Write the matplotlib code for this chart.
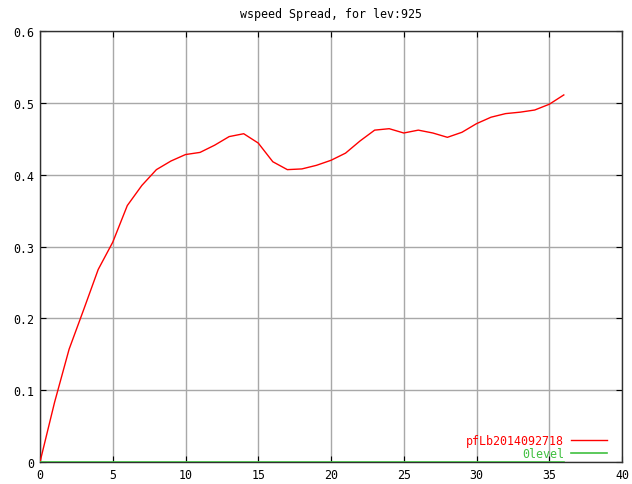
import matplotlib
matplotlib.use("Agg")
import matplotlib.pyplot as plt

plt.rcParams.update({
    "font.family": ["DejaVu Sans Mono"],
    "font.size": 8.4,
})

# forecast hour index and spread values
steps = list(range(37))
spread = [0.000, 0.083, 0.157, 0.212, 0.268, 0.306, 0.357, 0.385, 0.407, 0.419,
          0.428, 0.431, 0.441, 0.453, 0.457, 0.444, 0.418, 0.407, 0.408, 0.413,
          0.420, 0.430, 0.447, 0.462, 0.464, 0.458, 0.462, 0.458, 0.452, 0.459,
          0.471, 0.480, 0.485, 0.487, 0.490, 0.498, 0.511]
zero_level = [0.0] * len(steps)

xticks = [0, 5, 10, 15, 20, 25, 30, 35, 40]
yticks = [0, 0.1, 0.2, 0.3, 0.4, 0.5, 0.6]
ytick_labels = ["0", "0.1", "0.2", "0.3", "0.4", "0.5", "0.6"]

fig = plt.figure(figsize=(6.32, 4.85), dpi=100)
ax = fig.add_axes([40 / 632, 1 - 463 / 485, 582 / 632, 431 / 485])

ax.plot(steps, spread, color="#ff0000", lw=1.0, label="pfLb2014092718", zorder=3)
ax.plot(steps, zero_level, color="#40c040", lw=1.2, label="0level", zorder=3)

ax.set_xlim(0, 40)
ax.set_ylim(0, 0.6)
ax.set_xticks(xticks)
ax.set_yticks(yticks)
ax.set_yticklabels(ytick_labels)
ax.grid(True, color="#a8a8a8", lw=1.0)
ax.set_axisbelow(True)
ax.tick_params(direction="in", length=4, width=0.8, top=True, right=True, pad=4)
for s in ax.spines.values():
    s.set_linewidth(1.0)
    s.set_color("#303030")

ax.set_title("wspeed Spread, for lev:925", fontsize=8.4, pad=10)

leg = ax.legend(loc="lower right", bbox_to_anchor=(0.983, -0.007), frameon=False,
                markerfirst=False, handlelength=3.1, handletextpad=0.6,
                labelspacing=0.05, labelcolor="linecolor", borderaxespad=0)

fig.savefig("out.png", dpi=100, facecolor="white")
